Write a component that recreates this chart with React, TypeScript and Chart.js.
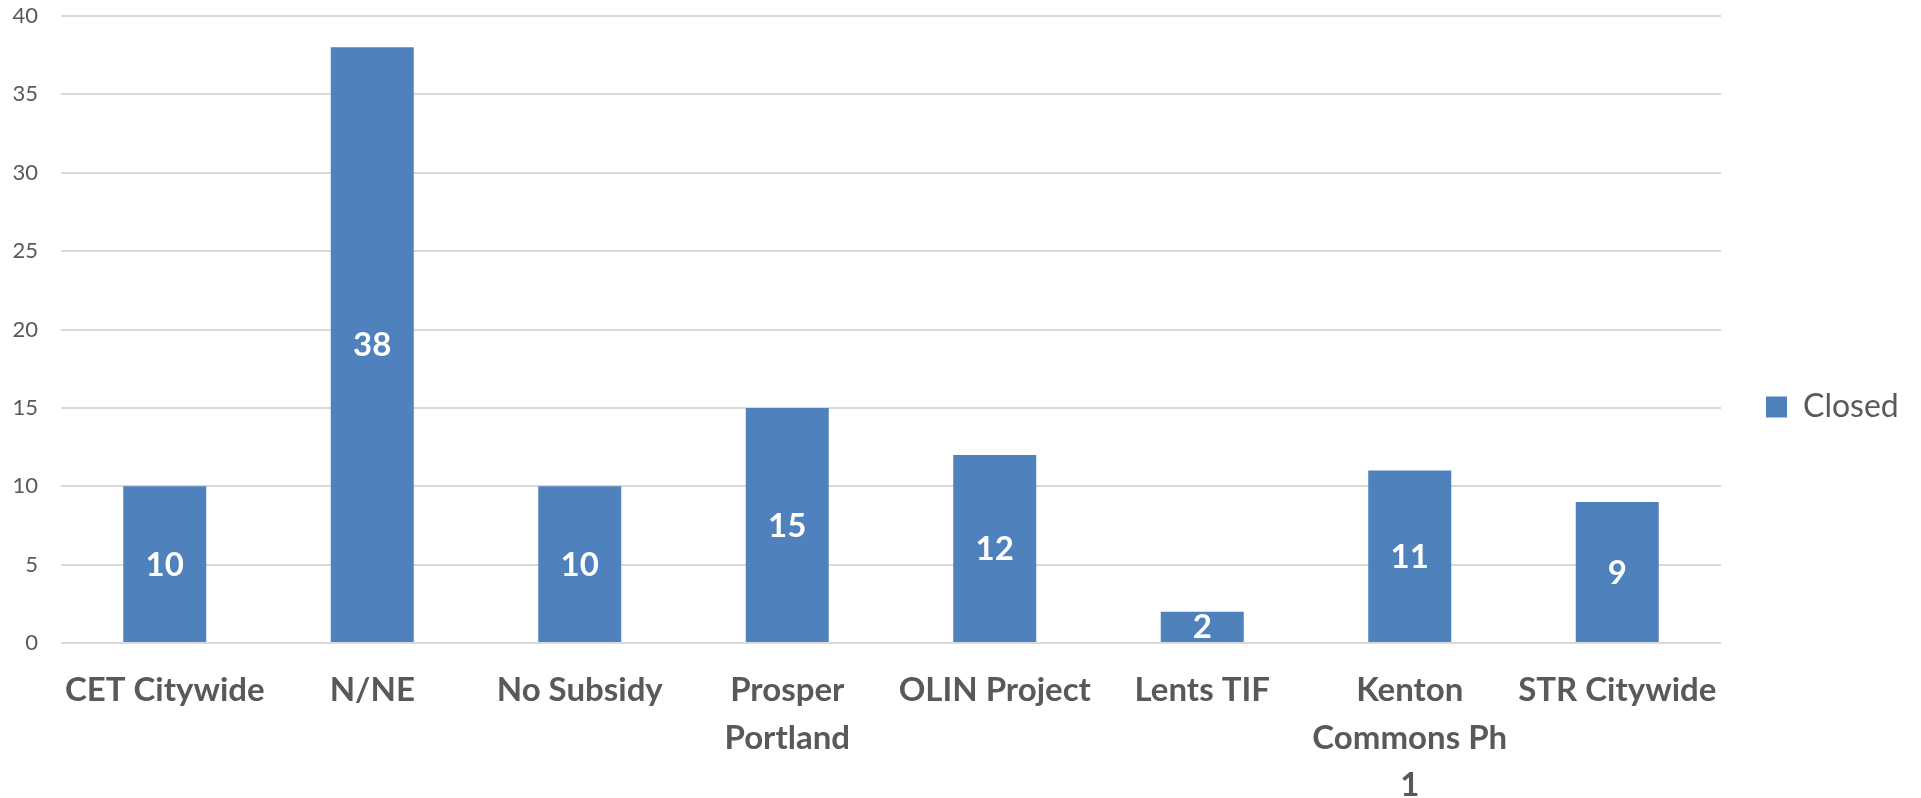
import React, { useEffect, useRef } from "react";
import { Chart, registerables } from "chart.js";

Chart.register(...registerables);

const categories: (string | string[])[] = [
  "CET Citywide",
  "N/NE",
  "No Subsidy",
  ["Prosper", "Portland"],
  "OLIN Project",
  "Lents TIF",
  ["Kenton", "Commons Ph", "1"],
  "STR Citywide",
];
const seriesName = "Closed";
const closedValues = [10, 38, 10, 15, 12, 2, 11, 9];
const yMin = 0;
const yMax = 40;
const yStep = 5;

const FONT = "Lato, 'Open Sans', 'Noto Sans', sans-serif";
const BAR_COLOR = "#4F81BD";
const TEXT_COLOR = "#595959";
const GRID_COLOR = "#D9D9D9";

const TARGET_LEFT = 61;
const TARGET_RIGHT = 1721;
const TARGET_TOP = 16;
const TARGET_BOTTOM = 643;
const W = 1921;
const H = 798;

const barLabels = {
  id: "barLabels",
  afterDatasetsDraw(chart: any) {
    const ctx = chart.ctx;
    chart.data.datasets.forEach((ds: any, di: number) => {
      const meta = chart.getDatasetMeta(di);
      meta.data.forEach((bar: any, i: number) => {
        const v = ds.data[i];
        const p = bar.getProps(["x", "y", "base"], true);
        ctx.save();
        ctx.fillStyle = "#FFFFFF";
        ctx.font = `bold 33px ${FONT}`;
        ctx.textAlign = "center";
        ctx.textBaseline = "middle";
        ctx.fillText(String(v), p.x, (p.y + p.base) / 2 + 1);
        ctx.restore();
      });
    });
  },
};

export default function App() {
  const canvasRef = useRef<HTMLCanvasElement | null>(null);

  useEffect(() => {
    if (!canvasRef.current) return;
    const chart = new Chart(canvasRef.current, {
      type: "bar",
      data: {
        labels: categories,
        datasets: [
          {
            label: seriesName,
            data: closedValues,
            backgroundColor: BAR_COLOR,
            borderWidth: 0,
            barPercentage: 0.4,
            categoryPercentage: 1,
          },
        ],
      },
      options: {
        animation: false,
        responsive: true,
        maintainAspectRatio: false,
        layout: { padding: { top: TARGET_TOP, right: 0, bottom: 0, left: 0 } },
        plugins: {
          title: { display: false },
          tooltip: { enabled: false },
          legend: {
            display: true,
            position: "right",
            align: "center",
            labels: {
              boxWidth: 21,
              boxHeight: 21,
              padding: 45,
              color: TEXT_COLOR,
              font: { family: FONT, size: 32 },
            },
          },
        },
        scales: {
          x: {
            grid: { display: false, drawTicks: false },
            border: { display: false },
            ticks: {
              color: TEXT_COLOR,
              font: { family: FONT, size: 33, weight: "bold", lineHeight: 1.44 },
              padding: 24,
              maxRotation: 0,
              minRotation: 0,
              autoSkip: false,
            },
            afterFit: (scale: any) => {
              scale.height = H - TARGET_BOTTOM;
              scale.paddingLeft = 0;
              scale.paddingRight = 0;
            },
          },
          y: {
            min: yMin,
            max: yMax,
            grid: { color: GRID_COLOR, lineWidth: 2, drawTicks: false },
            border: { display: false },
            ticks: {
              stepSize: yStep,
              color: TEXT_COLOR,
              font: { family: FONT, size: 22 },
              padding: 23,
            },
            afterFit: (scale: any) => {
              scale.width = TARGET_LEFT;
              scale.paddingTop = 0;
              scale.paddingBottom = 0;
            },
          },
        },
      },
      plugins: [barLabels],
    });

    const pad = (chart.options.layout as any).padding;
    const diffR = chart.chartArea.right - TARGET_RIGHT;
    const diffT = chart.chartArea.top - TARGET_TOP;
    if (Math.abs(diffR) > 0.5 || Math.abs(diffT) > 0.5) {
      pad.right = Math.max(0, pad.right + diffR);
      pad.top = Math.max(0, pad.top - diffT);
      chart.update();
    }

    return () => chart.destroy();
  }, []);

  return (
    <div
      style={{
        position: "fixed",
        left: 0,
        top: 0,
        width: W,
        height: H,
        background: "#FFFFFF",
      }}
    >
      <canvas ref={canvasRef} />
    </div>
  );
}
